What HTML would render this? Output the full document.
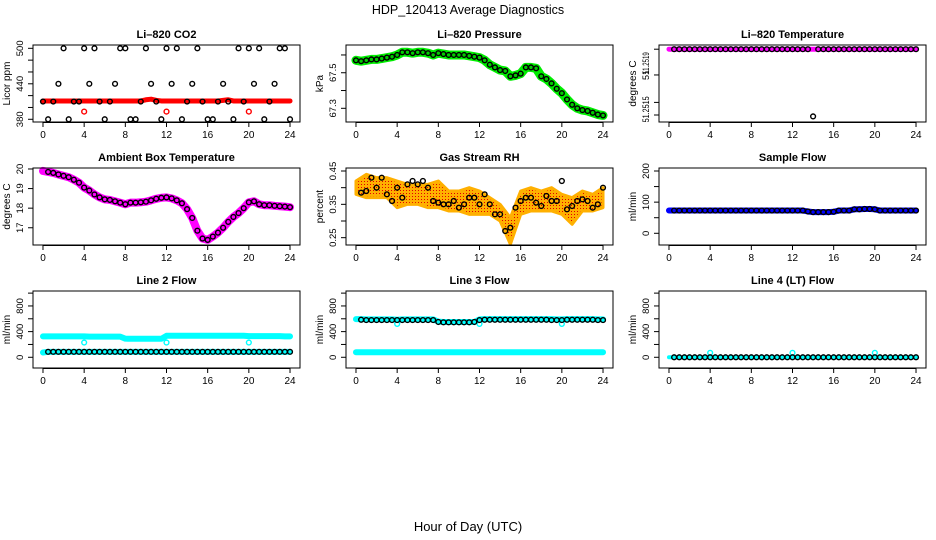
<!DOCTYPE html>
<html><head><meta charset="utf-8"><style>
html,body{margin:0;padding:0;background:#fff;}
svg{display:block;font-family:"Liberation Sans",sans-serif;}
</style></head><body>
<svg id="chart" width="936" height="540" viewBox="0 0 936 540" xmlns="http://www.w3.org/2000/svg">
<defs>
<pattern id="rhPat" width="3" height="3" patternUnits="userSpaceOnUse"><rect width="3" height="3" fill="#ffb000"/><rect x="1" y="1" width="1" height="1" fill="#e00000"/></pattern>
</defs>
<text x="468" y="14" text-anchor="middle" font-size="12.5">HDP_120413  Average Diagnostics</text>
<text x="468" y="531" text-anchor="middle" font-size="13">Hour of Day (UTC)</text>
</svg>
<script>
const hours=[0,0.5,1,1.5,2,2.5,3,3.5,4,4.5,5,5.5,6,6.5,7,7.5,8,8.5,9,9.5,10,10.5,11,11.5,12,12.5,13,13.5,14,14.5,15,15.5,16,16.5,17,17.5,18,18.5,19,19.5,20,20.5,21,21.5,22,22.5,23,23.5,24];
const xTicks=[0,4,8,12,16,20,24];
const dipHours=[4,12,20];
// CO2
const co2Red=[411,411,411,411,411,411,411,411,411,411,411,411,411,411,411,411,411,411,411,411,413,414,412,411,411,411,411,411,411,411,411,411,411,411,411,412,413,411,411,411,411,411,411,411,411,411,411,411,411];
const co2Black=[410,380,410,440,500,380,410,410,500,440,500,410,380,410,440,500,500,380,380,410,500,440,410,380,500,440,500,380,410,440,500,410,380,380,410,440,410,380,500,410,500,440,500,380,410,440,500,500,380];
const co2Dips=[393,393,393];
// Pressure
const pres=[67.57,67.565,67.57,67.575,67.575,67.58,67.585,67.59,67.6,67.615,67.615,67.61,67.615,67.615,67.61,67.6,67.61,67.605,67.6,67.6,67.6,67.6,67.595,67.59,67.585,67.57,67.545,67.53,67.515,67.51,67.48,67.485,67.495,67.53,67.53,67.525,67.48,67.465,67.44,67.41,67.385,67.35,67.32,67.3,67.29,67.285,67.275,67.265,67.26];
// Li-820 temperature
const ltemp=[51.2519,51.2519,51.2519,51.2519,51.2519,51.2519,51.2519,51.2519,51.2519,51.2519,51.2519,51.2519,51.2519,51.2519,51.2519,51.2519,51.2519,51.2519,51.2519,51.2519,51.2519,51.2519,51.2519,51.2519,51.2519,51.2519,51.2519,51.2519,51.25142,51.2519,51.2519,51.2519,51.2519,51.2519,51.2519,51.2519,51.2519,51.2519,51.2519,51.2519,51.2519,51.2519,51.2519,51.2519,51.2519,51.2519,51.2519,51.2519,51.2519];
const ltempBand=[51.2519,51.2519,51.2519,51.2519,51.2519,51.2519,51.2519,51.2519,51.2519,51.2519,51.2519,51.2519,51.2519,51.2519,51.2519,51.2519,51.2519,51.2519,51.2519,51.2519,51.2519,51.2519,51.2519,51.2519,51.2519,51.2519,51.2519,51.2519,51.2519,51.2519,51.2519,51.2519,51.2519,51.2519,51.2519,51.2519,51.2519,51.2519,51.2519,51.2519,51.2519,51.2519,51.2519,51.2519,51.2519,51.2519,51.2519,51.2519,51.2519];
// Ambient
const amb=[19.9,19.85,19.8,19.72,19.65,19.58,19.45,19.3,19.05,18.9,18.7,18.55,18.45,18.42,18.35,18.28,18.2,18.28,18.28,18.3,18.33,18.4,18.48,18.53,18.55,18.5,18.4,18.25,17.95,17.5,16.85,16.45,16.38,16.55,16.75,17.0,17.3,17.55,17.75,18.0,18.3,18.35,18.2,18.15,18.15,18.12,18.1,18.08,18.05];
// RH
const rhHours=[0,1,2,3,4,5,6,7,8,9,10,11,12,13,14,15,16,17,18,19,20,21,22,23,24];
const rhUpper=[0.42,0.44,0.43,0.43,0.42,0.41,0.41,0.41,0.42,0.39,0.39,0.40,0.39,0.37,0.35,0.31,0.39,0.40,0.39,0.40,0.38,0.37,0.39,0.38,0.40];
const rhLower=[0.38,0.37,0.37,0.37,0.34,0.35,0.35,0.34,0.34,0.33,0.33,0.32,0.32,0.32,0.30,0.23,0.32,0.33,0.33,0.33,0.32,0.29,0.33,0.33,0.34];
const rhBlack=[0.39,0.385,0.39,0.43,0.40,0.43,0.38,0.36,0.40,0.37,0.41,0.42,0.41,0.42,0.40,0.36,0.355,0.35,0.35,0.36,0.34,0.35,0.37,0.37,0.35,0.38,0.35,0.32,0.32,0.27,0.28,0.34,0.36,0.37,0.37,0.355,0.345,0.375,0.36,0.36,0.42,0.335,0.345,0.36,0.365,0.36,0.34,0.35,0.40];
// Sample flow
const sflow=[73,73,73,73,73,73,73,73,73,73,73,73,73,73,73,73,73,73,73,73,73,73,73,73,73,73,73,70,68,68,68,68,69,73,73,73,77,77,78,78,77,73,73,73,73,73,73,73,73];
// Line 2
const l2Cyan=[325,325,325,325,325,325,325,325,325,322,322,322,322,322,322,322,290,288,288,288,288,288,288,288,335,335,335,335,335,335,335,335,335,335,335,335,335,335,335,335,330,330,330,330,330,330,330,325,325];
const l2Black=[75,85,85,85,85,85,85,85,85,85,85,85,85,85,85,85,85,85,85,85,85,85,85,85,85,85,85,85,85,85,85,85,85,85,85,85,85,85,85,85,85,85,85,85,85,85,85,85,85];
const l2Dips=[230,230,230];
// Line 3
const l3Cyan=[595,595,590,590,590,590,590,590,585,590,590,590,590,590,590,590,555,550,550,550,550,550,550,550,590,595,595,595,595,595,595,595,595,595,595,595,595,595,595,590,590,595,595,595,595,595,595,590,590];
const l3Black=[590,585,580,580,580,580,580,580,580,580,580,580,580,580,580,580,550,545,545,545,545,545,545,550,580,585,585,585,585,585,585,585,585,585,585,585,585,585,580,580,580,585,585,585,585,585,585,580,580];
const l3Low=[78,78,78,78,78,78,78,78,78,78,78,78,78,78,78,78,78,78,78,78,78,78,78,78,78,78,78,78,78,78,78,78,78,78,78,78,78,78,78,78,78,78,78,78,78,78,78,78,78];
const l3Dips=[520,520,520];
// Line 4
const l4=[0,0,0,0,0,0,0,0,0,0,0,0,0,0,0,0,0,0,0,0,0,0,0,0,0,0,0,0,0,0,0,0,0,0,0,0,0,0,0,0,0,0,0,0,0,0,0,0,0];
const l4Dips=[70,70,70];

const svg=document.getElementById('chart');
const NS='http://www.w3.org/2000/svg';
function mk(tag,attrs,parent){const e=document.createElementNS(NS,tag);for(const k in attrs)e.setAttribute(k,attrs[k]);(parent||svg).appendChild(e);return e;}

function panel(o){
  const g=mk('g',{});
  
  
  const L=o.left,T=o.top,W=267,H=77;
  const xs=v=>L+(v+0.97)/(25.94)*W;
  const ys=v=>T+H-(v-o.dom[0])/(o.dom[1]-o.dom[0])*H;
  o.draw(g,xs,ys);
  const box=mk('rect',{x:L,y:T,width:W,height:H,fill:'none',stroke:'#000','stroke-width':1},g);
  
  
  const t=mk('text',{x:L+W/2,y:T-7,'text-anchor':'middle','font-size':11,'font-weight':'bold'},g);t.textContent=o.title;
  
  
  xTicks.forEach(v=>{
    const x=xs(v);
    mk('line',{x1:x,x2:x,y1:T+H,y2:T+H+5,stroke:'#000'},g);
    const lb=mk('text',{x:x,y:T+H+16,'text-anchor':'middle','font-size':10},g);lb.textContent=v;
    
    
  });
  mk('line',{x1:xs(0),x2:xs(24),y1:T+H+0.5,y2:T+H+0.5,stroke:'#000'},g);
  o.ticks.forEach(v=>{const y=ys(v);mk('line',{x1:L-5,x2:L,y1:y,y2:y,stroke:'#000'},g);});
  o.labels.forEach(([v,s,len])=>{
    const y=ys(v);
    const at={x:L-10,y:y,'text-anchor':'middle','font-size':o.lfs||9.5,transform:`rotate(-90 ${L-10} ${y})`};
    if(len){at.textLength=len;at.lengthAdjust='spacingAndGlyphs';}
    const lb=mk('text',at,g);lb.textContent=s;
    
    
  });
  const yt=mk('text',{x:L-23,y:T+H/2,'text-anchor':'middle','font-size':10,transform:`rotate(-90 ${L-23} ${T+H/2})`},g);yt.textContent=o.ytitle;
  
  
}
function band(g,xs,ys,xv,yv,color,w,name){
  const p=mk('polyline',{points:xv.map((x,i)=>xs(x)+','+ys(yv[i])).join(' '),fill:'none',stroke:color,'stroke-width':w,'stroke-linejoin':'round','stroke-linecap':'round'},g);
  
  
}
function circles(g,xs,ys,xv,yv,color,name,fill){
  xv.forEach((x,i)=>{
    const c=mk('circle',{cx:xs(x),cy:ys(yv[i]),r:2.4,fill:fill||'none',stroke:color,'stroke-width':1.4},g);
    
    
  });
}
const C=[33,346,659],R=[45,168,291];
const rowFlowTicks=[0,200,400,600,800,1000],rowFlowLabels=[[0,'0'],[400,'400'],[800,'800']];

panel({name:'co2-panel',title:'Li\u2013820 CO2',left:C[0],top:R[0],dom:[375.4,505.6],ytitle:'Licor ppm',ticks:[380,400,420,440,460,480,500],labels:[[380,'380'],[440,'440'],[500,'500']],
 draw:(g,xs,ys)=>{band(g,xs,ys,hours,co2Red,'#ff0000',5,'co2-red-series');circles(g,xs,ys,dipHours,co2Dips,'#ff0000','co2-red-point');circles(g,xs,ys,hours,co2Black,'#000','co2-black-point');}});
panel({name:'pressure-panel',title:'Li\u2013820 Pressure',left:C[1],top:R[0],dom:[67.223,67.656],ytitle:'kPa',ticks:[67.3,67.4,67.5,67.6],labels:[[67.3,'67.3'],[67.5,'67.5']],
 draw:(g,xs,ys)=>{band(g,xs,ys,hours,pres,'#00ee00',9,'pressure-green-series');circles(g,xs,ys,hours,pres,'#000','pressure-point','#00cc00');}});
panel({name:'li820-temp-panel',title:'Li\u2013820 Temperature',left:C[2],top:R[0],dom:[51.25138,51.25193],ytitle:'degrees C',lfs:9,ticks:[51.2519,51.251716,51.25152,51.25143],labels:[[51.25180,'51.2519',22],[51.251716,'51'],[51.25147,'51.2515',26]],
 draw:(g,xs,ys)=>{band(g,xs,ys,hours,ltempBand,'#ff00ff',5,'li820-temp-magenta-series');circles(g,xs,ys,hours.slice(1),ltemp.slice(1),'#000','li820-temp-point');}});
panel({name:'ambient-temp-panel',title:'Ambient Box Temperature',left:C[0],top:R[1],dom:[16.12,20.05],ytitle:'degrees C',ticks:[17,18,19,20],labels:[[17,'17'],[18,'18'],[19,'19'],[20,'20']],
 draw:(g,xs,ys)=>{band(g,xs,ys,hours,amb,'#ff00ff',8,'ambient-magenta-series');circles(g,xs,ys,hours.slice(1),amb.slice(1),'#000','ambient-point');}});
panel({name:'rh-panel',title:'Gas Stream RH',left:C[1],top:R[1],dom:[0.228,0.459],ytitle:'percent',ticks:[0.25,0.3,0.35,0.4,0.45],labels:[[0.25,'0.25'],[0.35,'0.35'],[0.45,'0.45']],
 draw:(g,xs,ys)=>{
   const pts=rhHours.map((x,i)=>xs(x)+','+ys(rhUpper[i])).concat(rhHours.slice().reverse().map((x,j)=>xs(x)+','+ys(rhLower[rhHours.length-1-j])));
   const p=mk('polygon',{points:pts.join(' '),fill:'url(#rhPat)',stroke:'#ffb000','stroke-width':3,'stroke-linejoin':'round'},g);
   
   
   circles(g,xs,ys,hours.slice(1),rhBlack.slice(1),'#000','rh-point');}});
panel({name:'sample-flow-panel',title:'Sample Flow',left:C[2],top:R[1],dom:[-37.6,209.6],ytitle:'ml/min',ticks:[0,50,100,150,200],labels:[[0,'0'],[100,'100'],[200,'200']],
 draw:(g,xs,ys)=>{band(g,xs,ys,hours,sflow,'#0000ff',6,'sample-flow-blue-series');circles(g,xs,ys,hours.slice(1),sflow.slice(1),'#000','sample-flow-point');}});
panel({name:'line2-flow-panel',title:'Line 2 Flow',left:C[0],top:R[2],dom:[-167,1033],ytitle:'ml/min',ticks:rowFlowTicks,labels:rowFlowLabels,
 draw:(g,xs,ys)=>{band(g,xs,ys,hours,l2Cyan,'#00ffff',6,'line2-cyan-upper');band(g,xs,ys,hours,l2Black,'#00ffff',6,'line2-cyan-lower');circles(g,xs,ys,dipHours,l2Dips,'#00ffff','line2-dip-point');circles(g,xs,ys,hours.slice(1),l2Black.slice(1),'#000','line2-point','#00ffff');}});
panel({name:'line3-flow-panel',title:'Line 3 Flow',left:C[1],top:R[2],dom:[-167,1033],ytitle:'ml/min',ticks:rowFlowTicks,labels:rowFlowLabels,
 draw:(g,xs,ys)=>{band(g,xs,ys,hours,l3Cyan,'#00ffff',6,'line3-cyan-upper');band(g,xs,ys,hours,l3Low,'#00ffff',6,'line3-cyan-lower');circles(g,xs,ys,dipHours,l3Dips,'#00ffff','line3-dip-point');circles(g,xs,ys,hours.slice(1),l3Black.slice(1),'#000','line3-point','#00ffff');}});
panel({name:'line4-flow-panel',title:'Line 4 (LT) Flow',left:C[2],top:R[2],dom:[-167,1033],ytitle:'ml/min',ticks:rowFlowTicks,labels:rowFlowLabels,
 draw:(g,xs,ys)=>{band(g,xs,ys,hours,l4,'#00ffff',4,'line4-cyan-series');circles(g,xs,ys,dipHours,l4Dips,'#00ffff','line4-dip-point');circles(g,xs,ys,hours.slice(1),l4.slice(1),'#000','line4-point','#00ffff');}});
</script>
</body></html>
